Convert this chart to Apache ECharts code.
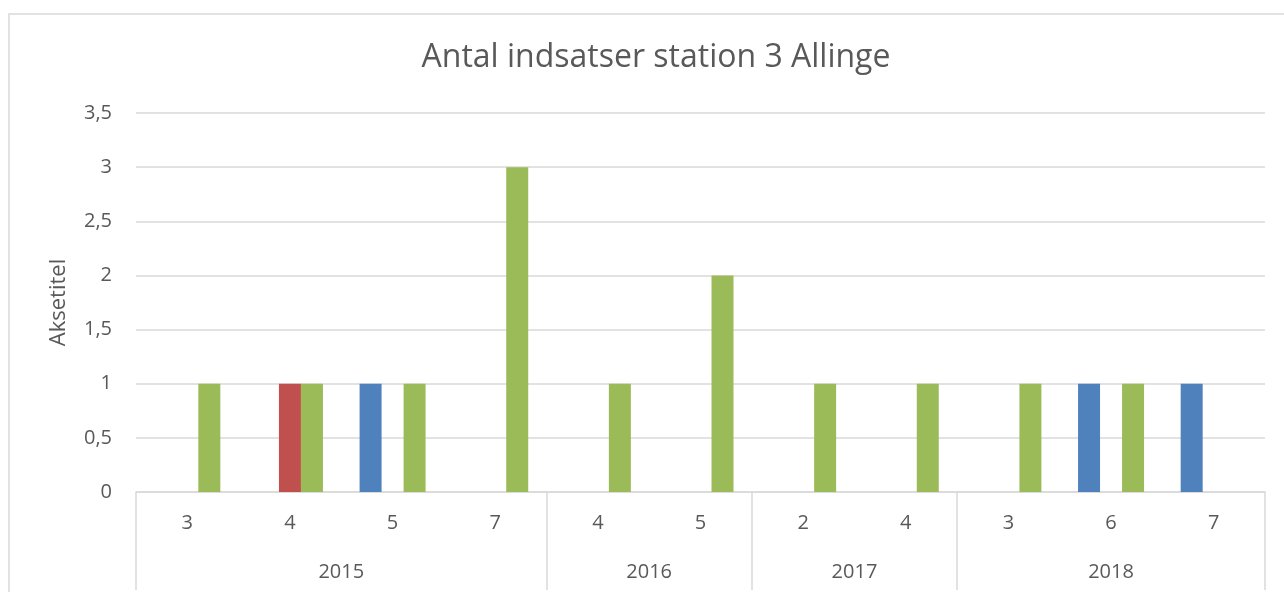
<!DOCTYPE html>
<html>
<head>
<meta charset="utf-8">
<script src="https://cdn.jsdelivr.net/npm/echarts@6/dist/echarts.min.js"></script>
<style>
  html, body { margin: 0; padding: 0; background: #fff; }
  #chart { width: 1284px; height: 592px; }
</style>
</head>
<body>
<div id="chart"></div>
<script>
// kategorier: år og måned
const years = ['2015', '2015', '2015', '2015', '2016', '2016', '2017', '2017', '2018', '2018', '2018'];
const months = ['3', '4', '5', '7', '4', '5', '2', '4', '3', '6', '7'];

// serier (blå, rød, grøn)
const blueValues = [0, 0, 1, 0, 0, 0, 0, 0, 0, 1, 1];
const redValues = [0, 1, 0, 0, 0, 0, 0, 0, 0, 0, 0];
const greenValues = [1, 1, 1, 3, 1, 2, 1, 1, 1, 1, 0];

// y-akse
const yTicks = [0, 0.5, 1, 1.5, 2, 2.5, 3, 3.5];

// find grupper af år: grænser og midtpunkter
const bounds = [0];
const centers = [];
const centerYear = {};
let start = 0;
for (let i = 1; i <= years.length; i++) {
  if (i === years.length || years[i] !== years[start]) {
    bounds.push(i);
    const c = (start + i) / 2;
    centers.push(c);
    centerYear[c] = years[start];
    start = i;
  }
}

const textColor = '#595959';
const lineColor = '#d9d9d9';
const font = 'Open Sans';

const chart = echarts.init(document.getElementById('chart'), null, { renderer: 'canvas' });

chart.setOption({
  animation: false,
  title: {
    text: 'Antal indsatser station 3 Allinge',
    left: 651,
    textAlign: 'center',
    top: 37,
    textStyle: { fontFamily: font, fontSize: 32, fontWeight: 'normal', color: textColor }
  },
  graphic: [{
    type: 'rect',
    shape: { x: 9, y: 14, width: 1300, height: 620 },
    style: { fill: 'none', stroke: lineColor, lineWidth: 1.5 },
    silent: true
  }],
  grid: { left: 136, right: 19, top: 113, bottom: 100 },
  xAxis: [{
    type: 'category',
    data: months,
    axisLine: { lineStyle: { color: lineColor, width: 1.5 } },
    axisTick: { show: false },
    axisLabel: { color: textColor, fontFamily: font, fontSize: 20, margin: 21 }
  }, {
    type: 'value',
    position: 'bottom',
    min: 0,
    max: years.length,
    splitLine: { show: false },
    axisLine: { show: false },
    axisTick: {
      show: true,
      customValues: bounds,
      length: 98,
      lineStyle: { color: lineColor, width: 1.5 }
    },
    axisLabel: {
      customValues: centers,
      color: textColor,
      fontFamily: font,
      fontSize: 20,
      margin: 70,
      formatter: v => centerYear[v] || ''
    }
  }],
  yAxis: {
    type: 'value',
    min: 0,
    max: yTicks[yTicks.length - 1],
    interval: 0.5,
    name: 'Aksetitel',
    nameLocation: 'middle',
    nameGap: 66,
    nameTextStyle: { color: textColor, fontFamily: font, fontSize: 22 },
    axisLine: { show: false },
    axisTick: { show: false },
    splitLine: { lineStyle: { color: lineColor, width: 1.5 } },
    axisLabel: {
      color: textColor,
      fontFamily: font,
      fontSize: 20,
      margin: 24,
      formatter: v => String(v).replace('.', ',')
    }
  },
  series: [
    { name: 'Serie1', type: 'bar', data: blueValues, barWidth: 22, barGap: '0%', itemStyle: { color: '#4f81bd' } },
    { name: 'Serie2', type: 'bar', data: redValues, barWidth: 22, barGap: '0%', itemStyle: { color: '#c0504d' } },
    { name: 'Serie3', type: 'bar', data: greenValues, barWidth: 22, barGap: '0%', itemStyle: { color: '#9bbb59' } }
  ]
});
</script>
</body>
</html>
